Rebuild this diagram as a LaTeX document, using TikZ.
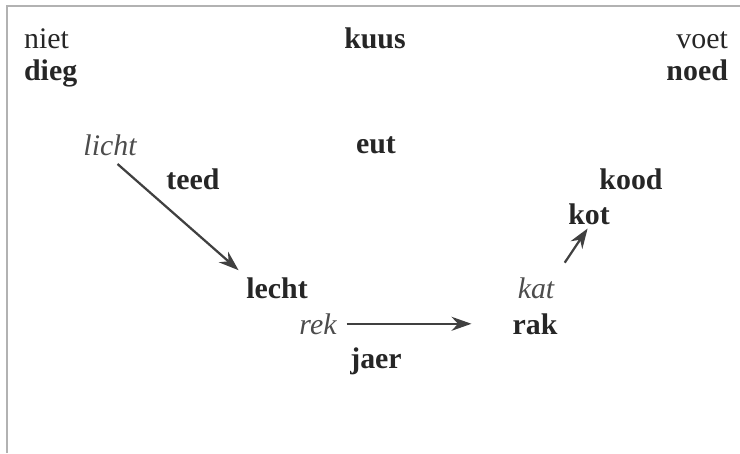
\documentclass[tikz,border=0pt]{standalone}
\usepackage{fontspec}
\setmainfont{Liberation Serif}
\usetikzlibrary{arrows.meta}
\tikzset{
  word/.style={font=\fontsize{17}{20}\selectfont\bfseries, text=black!85, inner sep=1pt, anchor=base},
  plainword/.style={font=\fontsize{17}{20}\selectfont, text=black!85, inner sep=1pt, anchor=base},
  oldword/.style={font=\fontsize{17}{20}\selectfont\itshape, text=black!70, inner sep=1pt, anchor=base},
  shiftarrow/.style={-{Stealth[length=4mm,width=2.8mm]}, line width=0.45mm, color=black!75}
}

\begin{document}
\begin{tikzpicture}[x=0.02cm, y=-0.02cm]
		%%%%% START %%%%%
		
		\useasboundingbox (0, 0) rectangle (740, 453);
		\draw[line width=0.6mm, color=black!30] (7, 453) -- (7, 6) -- (740, 6);
		
		\node[plainword, anchor=base west] (niet) at (22, 48) {niet};
		\node[word, anchor=base west] (dieg) at (22, 80) {dieg};
		\node[word] (kuus) at (375, 48) {kuus};
		\node[plainword, anchor=base east] (voet) at (730, 48) {voet};
		\node[word, anchor=base east] (noed) at (730, 80) {noed};
		
		\node[oldword] (licht) at (110, 155) {licht};
		\node[word] (teed) at (193, 189) {teed};
		\node[word] (eut) at (376, 153) {eut};
		\node[word] (lecht) at (277, 298) {lecht};
		
		\node[oldword] (rek) at (318, 334) {rek};
		\node[word] (jaer) at (376, 368) {jaer};
		\node[word] (rak) at (535, 334) {rak};
		\node[oldword] (kat) at (536, 298) {kat};
		
		\node[word] (kot) at (589, 224) {kot};
		\node[word] (kood) at (631, 189) {kood};
		
		\draw[shiftarrow, shorten <=0.2cm, shorten >=0.15cm] (licht.south) -- (lecht.north west);
		\draw[shiftarrow, shorten <=0.16cm, shorten >=0.78cm] (rek.east) -- (rak.west |- rek.east);
		\draw[shiftarrow, shorten <=0.3cm, shorten >=0.05cm] (kat.north east) -- (kot.south);
		
		%%%%% END %%%%%
	\end{tikzpicture}
\end{document}
